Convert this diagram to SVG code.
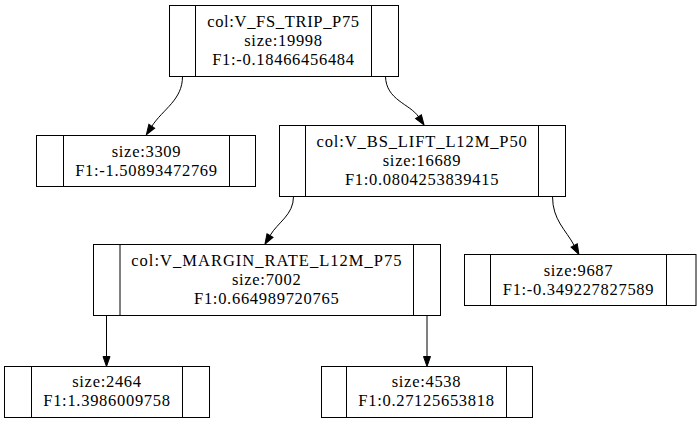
<svg xmlns="http://www.w3.org/2000/svg" width="697" height="424" viewBox="0 0 697 424">
<style>
.box{fill:#fff;stroke:#000;stroke-width:1}
.div{stroke:#000;stroke-width:1}
.edge{fill:none;stroke:#000;stroke-width:1}
.t{font-family:'Liberation Serif','Times New Roman',Times,serif;font-size:16.5px;fill:#000;text-anchor:middle;letter-spacing:0.7px}
</style>
<defs>
<marker id="ah" markerUnits="userSpaceOnUse" markerWidth="12" markerHeight="9" refX="0" refY="3.5" orient="auto" overflow="visible">
<polygon points="0,0 10,3.5 0,7" fill="#000" stroke="#000" stroke-width="1"/>
</marker>
</defs>
<rect width="697" height="424" fill="#fff"/>
<g id="edges">
<path class="edge" d="M182.5,76.5 C182.5,100 163,109 151.8,126.3" marker-end="url(#ah)"/>
<path class="edge" d="M385.5,76.5 C386,100 410,104 418.5,116.7" marker-end="url(#ah)"/>
<path class="edge" d="M293.5,196.5 C293.5,215 278,222 270,235.6" marker-end="url(#ah)"/>
<path class="edge" d="M552.5,196.5 C552.5,220 566,230 574.2,245.5" marker-end="url(#ah)"/>
<path class="edge" d="M106.5,315.5 L106.5,356.5" marker-end="url(#ah)"/>
<path class="edge" d="M427,315.5 L427,356.5" marker-end="url(#ah)"/>
</g>
<g id="node0" class="t">
<rect class="box" x="169.5" y="5.5" width="229" height="71"/>
<line class="div" x1="195.5" y1="5.5" x2="195.5" y2="76.5"/>
<line class="div" x1="371.5" y1="5.5" x2="371.5" y2="76.5"/>
<text x="283.5" y="27" textLength="152.6" lengthAdjust="spacing">col:V_FS_TRIP_P75</text>
<text x="283.5" y="46">size:19998</text>
<text x="283.5" y="65">F1:-0.18466456484</text>
</g>
<g id="node1" class="t">
<rect class="box" x="36.5" y="135.5" width="219" height="51"/>
<line class="div" x1="63.5" y1="135.5" x2="63.5" y2="186.5"/>
<line class="div" x1="229.5" y1="135.5" x2="229.5" y2="186.5"/>
<text x="146.5" y="156.5">size:3309</text>
<text x="146.5" y="175.5">F1:-1.50893472769</text>
</g>
<g id="node2" class="t">
<rect class="box" x="279.5" y="125.5" width="286" height="71"/>
<line class="div" x1="305.5" y1="125.5" x2="305.5" y2="196.5"/>
<line class="div" x1="538.5" y1="125.5" x2="538.5" y2="196.5"/>
<text x="422" y="146.5" textLength="211" lengthAdjust="spacing">col:V_BS_LIFT_L12M_P50</text>
<text x="422" y="165.5">size:16689</text>
<text x="422" y="184.5">F1:0.0804253839415</text>
</g>
<g id="node3" class="t">
<rect class="box" x="93.5" y="244.5" width="347" height="71"/>
<line class="div" x1="120" y1="244.5" x2="120" y2="315.5"/>
<line class="div" x1="413.5" y1="244.5" x2="413.5" y2="315.5"/>
<text x="266.7" y="266" textLength="271" lengthAdjust="spacing">col:V_MARGIN_RATE_L12M_P75</text>
<text x="266.7" y="285">size:7002</text>
<text x="266.7" y="304">F1:0.664989720765</text>
</g>
<g id="node4" class="t">
<rect class="box" x="464.5" y="254.5" width="231.5" height="51"/>
<line class="div" x1="490.5" y1="254.5" x2="490.5" y2="305.5"/>
<line class="div" x1="666.5" y1="254.5" x2="666.5" y2="305.5"/>
<text x="578.5" y="275.5">size:9687</text>
<text x="578.5" y="294.5">F1:-0.349227827589</text>
</g>
<g id="node5" class="t">
<rect class="box" x="4.5" y="366.5" width="205" height="51"/>
<line class="div" x1="31.5" y1="366.5" x2="31.5" y2="417.5"/>
<line class="div" x1="182.5" y1="366.5" x2="182.5" y2="417.5"/>
<text x="107" y="387">size:2464</text>
<text x="107" y="406">F1:1.3986009758</text>
</g>
<g id="node6" class="t">
<rect class="box" x="321.5" y="366.5" width="211" height="51"/>
<line class="div" x1="346.5" y1="366.5" x2="346.5" y2="417.5"/>
<line class="div" x1="506.5" y1="366.5" x2="506.5" y2="417.5"/>
<text x="426.5" y="387">size:4538</text>
<text x="426.5" y="406">F1:0.27125653818</text>
</g>
</svg>
